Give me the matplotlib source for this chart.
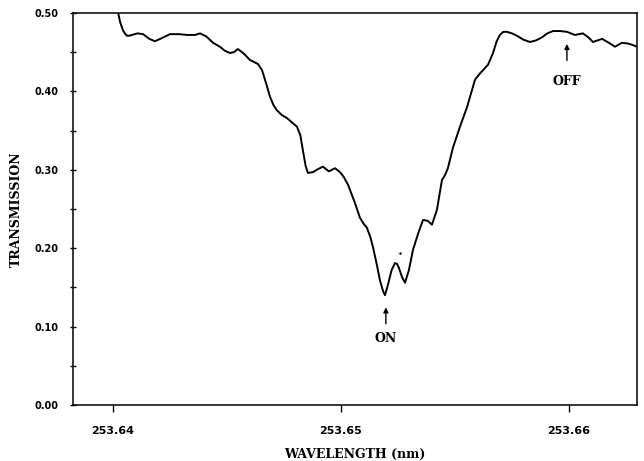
import matplotlib.pyplot as plt
from matplotlib.ticker import MultipleLocator

# wavelength (nm) and transmission
wavelength = [253.64020, 253.64026, 253.64031, 253.64038, 253.64044, 253.64052,
              253.64061, 253.64072, 253.64083, 253.64108, 253.64132, 253.64160,
              253.64184, 253.64215, 253.64250, 253.64290, 253.64325, 253.64360,
              253.64382, 253.64410, 253.64439, 253.64469, 253.64490,
              253.64513, 253.64530, 253.64548, 253.64575, 253.64601, 253.64636,
              253.64654, 253.64672, 253.64689, 253.64705,
              253.64719, 253.64740, 253.64763, 253.64807, 253.64822, 253.64833,
              253.64845, 253.64855, 253.64877, 253.64900,
              253.64921, 253.64947, 253.64974, 253.64996, 253.65012, 253.65031,
              253.65061, 253.65083, 253.65100, 253.65114, 253.65128, 253.65140,
              253.65158, 253.65171, 253.65185, 253.65193, 253.65205, 253.65222,
              253.65237, 253.65246, 253.65254, 253.65268, 253.65281, 253.65298,
              253.65316, 253.65340, 253.65360, 253.65380, 253.65399, 253.65421,
              253.65443, 253.65456, 253.65469, 253.65491, 253.65522, 253.65553,
              253.65588, 253.65610, 253.65645, 253.65667, 253.65683, 253.65697,
              253.65712, 253.65728, 253.65750, 253.65772, 253.65800, 253.65829,
              253.65855, 253.65882, 253.65905, 253.65930, 253.65960, 253.65991,
              253.66026, 253.66061, 253.66085, 253.66105, 253.66145, 253.66175,
              253.66202, 253.66232, 253.66260, 253.66281, 253.66298]
transmission = [0.505, 0.496, 0.489, 0.483, 0.478, 0.474,
                0.471, 0.471, 0.472, 0.474, 0.473, 0.467,
                0.464, 0.468, 0.473, 0.473, 0.472, 0.472,
                0.474, 0.470, 0.462, 0.457, 0.452,
                0.449, 0.450, 0.454, 0.448, 0.440, 0.435,
                0.427, 0.410, 0.393, 0.382,
                0.376, 0.370, 0.366, 0.355, 0.344, 0.325,
                0.305, 0.296, 0.297, 0.301,
                0.304, 0.298, 0.302, 0.297, 0.291, 0.281,
                0.258, 0.239, 0.231, 0.226, 0.215, 0.202,
                0.178, 0.159, 0.145, 0.140, 0.152, 0.172,
                0.181, 0.180, 0.175, 0.163, 0.156, 0.172,
                0.198, 0.220, 0.236, 0.235, 0.230, 0.249,
                0.287, 0.293, 0.302, 0.328, 0.355, 0.380,
                0.415, 0.423, 0.434, 0.449, 0.464, 0.472,
                0.476, 0.476, 0.474, 0.471, 0.466, 0.463,
                0.465, 0.469, 0.474, 0.477, 0.477, 0.476,
                0.472, 0.474, 0.469, 0.463, 0.467, 0.462,
                0.457, 0.462, 0.461, 0.459, 0.457]

# laser on / off positions
on_wl, on_t = 253.65197, 0.140
off_wl, off_t = 253.65991, 0.476

fig = plt.figure(figsize=(6.44, 4.61), dpi=100)
ax = fig.add_axes([0.1134, 0.1215, 0.8756, 0.8503])

ax.plot(wavelength, transmission, color='black', lw=1.4,
        solid_joinstyle='round', solid_capstyle='round')
ax.plot([253.65259], [0.194], 'k.', ms=1.5)

# arrows
ax.annotate('', xy=(on_wl, on_t - 0.012), xytext=(on_wl, on_t - 0.040),
            arrowprops=dict(arrowstyle='-|>', color='black', lw=1.0, mutation_scale=7))
ax.text(on_wl, on_t - 0.055, 'ON', ha='center', va='center', fontsize=9,
        fontweight='bold', family='DejaVu Serif')
ax.annotate('', xy=(off_wl, off_t - 0.012), xytext=(off_wl, off_t - 0.040),
            arrowprops=dict(arrowstyle='-|>', color='black', lw=1.0, mutation_scale=7))
ax.text(off_wl, off_t - 0.064, 'OFF', ha='center', va='center', fontsize=9,
        fontweight='bold', family='DejaVu Serif')

ax.set_xlim(253.63825, 253.66298)
ax.set_ylim(0, 0.5)
ax.set_xticks([253.64, 253.65, 253.66])
ax.set_xticklabels(['253.64', '253.65', '253.66'])
ax.yaxis.set_major_locator(MultipleLocator(0.1))
ax.yaxis.set_minor_locator(MultipleLocator(0.05))
ax.yaxis.set_major_formatter(plt.FormatStrFormatter('%.2f'))

ax.tick_params(axis='y', which='both', direction='inout', length=5, width=1,
               labelsize=7, pad=8)
ax.tick_params(axis='x', direction='out', length=5, width=1, labelsize=8, pad=10)
for lab in ax.get_xticklabels() + ax.get_yticklabels():
    lab.set_fontweight('bold')

ax.set_xlabel('WAVELENGTH (nm)', fontsize=9, fontweight='bold',
              family='DejaVu Serif', labelpad=9)
ax.set_ylabel('TRANSMISSION', fontsize=9, fontweight='bold',
              family='DejaVu Serif', labelpad=8)

for s in ax.spines.values():
    s.set_linewidth(1.1)

fig.savefig('out.png', dpi=100)
